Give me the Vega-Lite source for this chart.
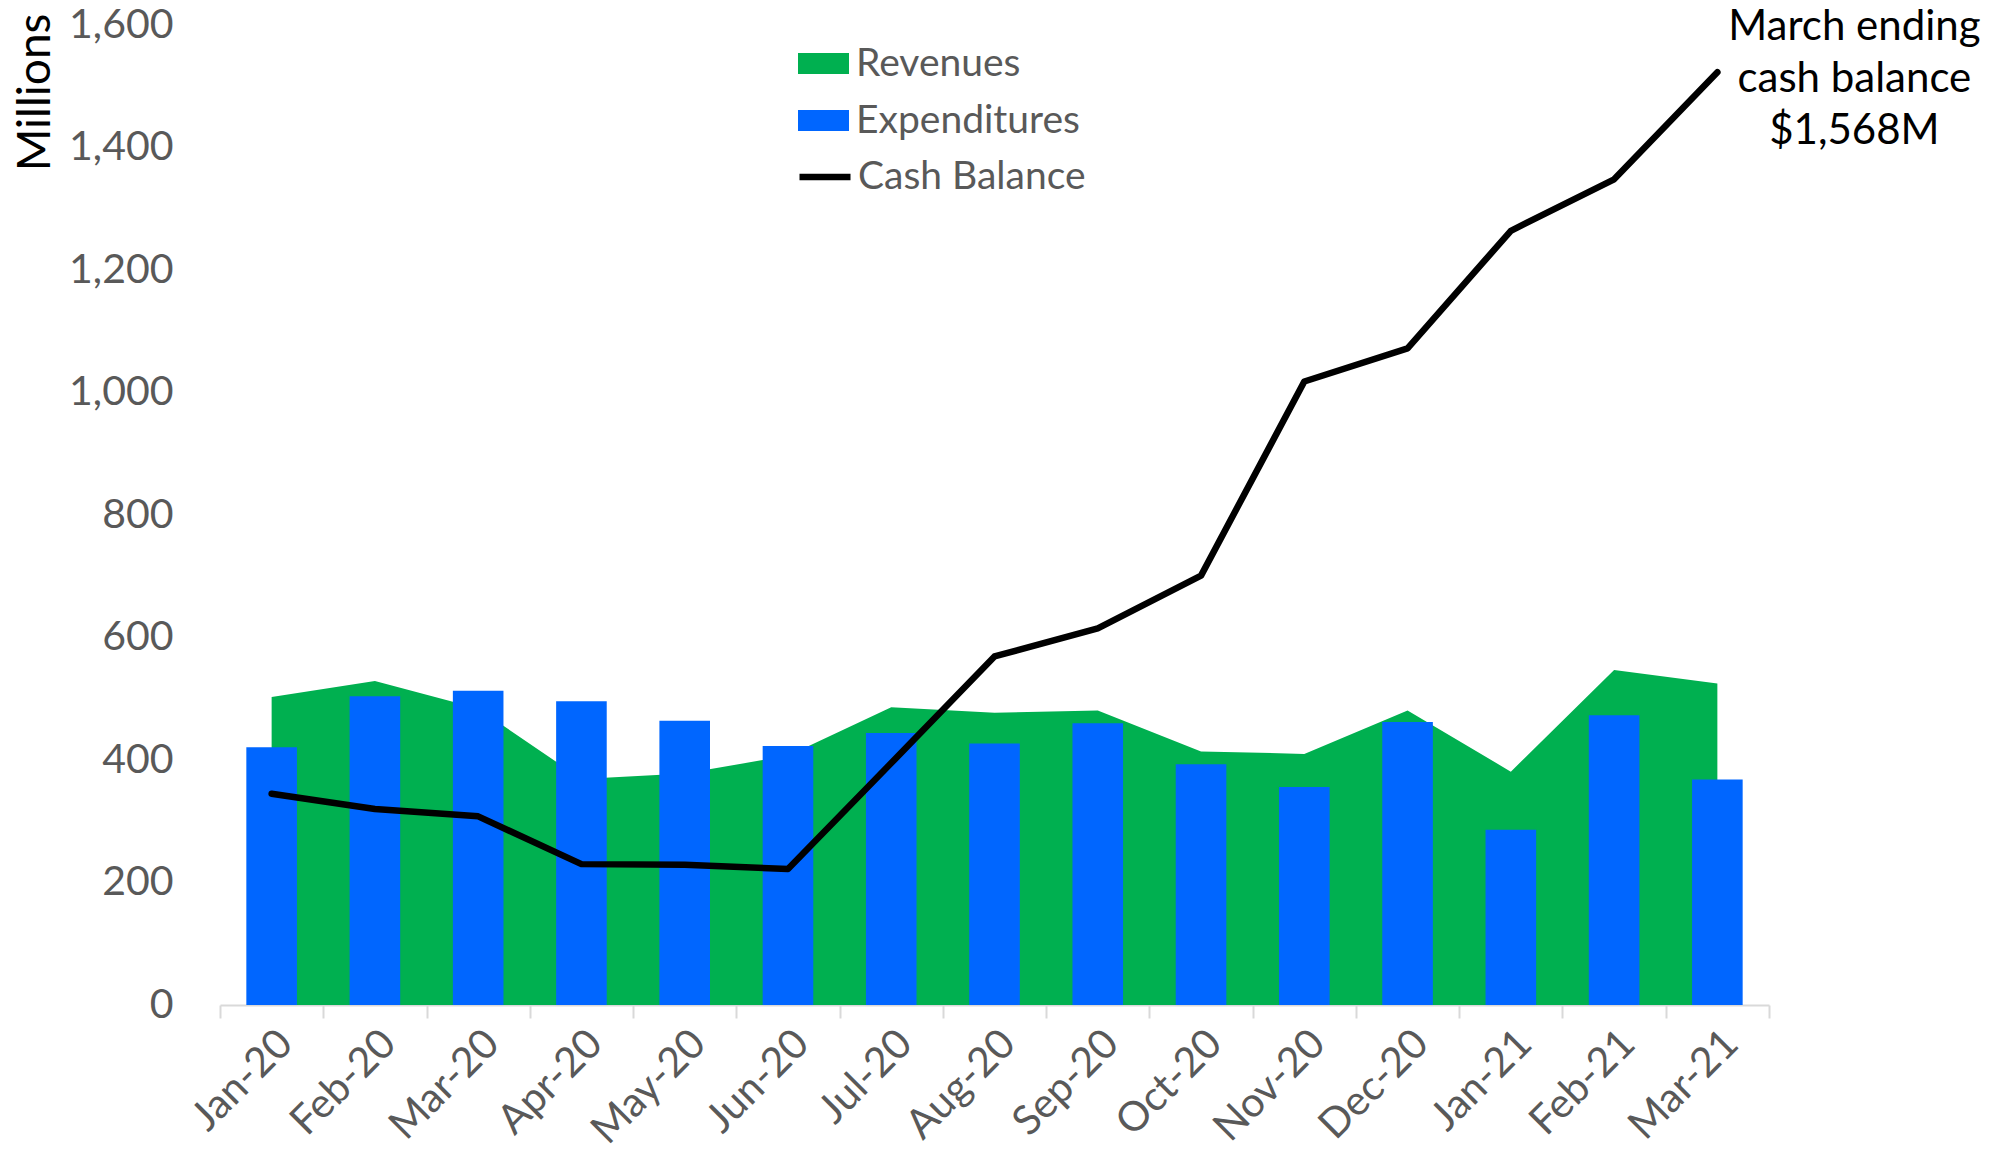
{
  "$schema": "https://vega.github.io/schema/vega-lite/v6.json",
  "width": 1549,
  "height": 980,
  "autosize": {"type": "none"},
  "padding": {"left": 220, "top": 25, "right": 236, "bottom": 150},
  "background": "white",
  "config": {"view": {"stroke": null}, "font": "Lato"},
  "data": {"values": [
    {"month": "Jan-20", "revenues": 503, "expenditures": 421, "cash": 345},
    {"month": "Feb-20", "revenues": 529, "expenditures": 504, "cash": 320},
    {"month": "Mar-20", "revenues": 484, "expenditures": 513, "cash": 308},
    {"month": "Apr-20", "revenues": 369, "expenditures": 496, "cash": 230},
    {"month": "May-20", "revenues": 378, "expenditures": 464, "cash": 229},
    {"month": "Jun-20", "revenues": 407, "expenditures": 423, "cash": 222},
    {"month": "Jul-20", "revenues": 486, "expenditures": 444, "cash": 395},
    {"month": "Aug-20", "revenues": 477, "expenditures": 427, "cash": 569},
    {"month": "Sep-20", "revenues": 481, "expenditures": 460, "cash": 615},
    {"month": "Oct-20", "revenues": 414, "expenditures": 393, "cash": 701},
    {"month": "Nov-20", "revenues": 410, "expenditures": 356, "cash": 1018},
    {"month": "Dec-20", "revenues": 481, "expenditures": 462, "cash": 1072},
    {"month": "Jan-21", "revenues": 381, "expenditures": 286, "cash": 1264},
    {"month": "Feb-21", "revenues": 547, "expenditures": 473, "cash": 1348},
    {"month": "Mar-21", "revenues": 525, "expenditures": 368, "cash": 1523}
  ]},
  "encoding": {
    "x": {
      "field": "month", "type": "nominal", "sort": null,
      "scale": {"paddingInner": 0, "paddingOuter": 0},
      "axis": {
        "title": null,
        "tickBand": "extent",
        "domainColor": "#D9D9D9", "domainWidth": 2,
        "tickColor": "#D9D9D9", "tickWidth": 2, "tickSize": 13,
        "labelAngle": -45, "labelFont": "Lato", "labelFontSize": 41,
        "labelColor": "#595959", "labelPadding": 5
      }
    }
  },
  "layer": [
    {
      "mark": {"type": "area", "opacity": 1},
      "encoding": {
        "y": {
          "field": "revenues", "type": "quantitative",
          "scale": {"domain": [0, 1600], "nice": false},
          "axis": {
            "title": "Millions", "titleFont": "Lato", "titleFontSize": 46,
            "titleFontWeight": "normal", "titleColor": "black",
            "titleAngle": -90, "titleAlign": "right", "titleBaseline": "middle",
            "titleX": -185, "titleY": -12,
            "values": [0, 200, 400, 600, 800, 1000, 1200, 1400, 1600],
            "format": ",d", "grid": false, "domain": false, "ticks": false,
            "labelFont": "Lato", "labelFontSize": 41, "labelColor": "#595959",
            "labelPadding": 47
          }
        },
        "fill": {
          "datum": "Revenues",
          "scale": {"domain": ["Revenues", "Expenditures"], "range": ["#00B050", "#0066FF"]},
          "legend": {
            "title": null, "orient": "none", "legendX": 578, "legendY": 13,
            "direction": "vertical", "padding": 0,
            "symbolType": "M-1,-0.41H1V0.41H-1Z", "symbolSize": 2601,
            "symbolStrokeWidth": 0,
            "labelFont": "Lato", "labelFontSize": 39, "labelColor": "#595959",
            "labelOffset": 7, "rowPadding": 11, "labelLimit": 500
          }
        }
      }
    },
    {
      "mark": {"type": "bar", "width": {"band": 0.49}},
      "encoding": {
        "y": {"field": "expenditures", "type": "quantitative"},
        "fill": {"datum": "Expenditures"}
      }
    },
    {
      "mark": {"type": "line", "strokeWidth": 6.5, "strokeJoin": "round", "strokeCap": "round"},
      "encoding": {
        "y": {"field": "cash", "type": "quantitative"},
        "stroke": {
          "datum": "Cash Balance",
          "scale": {"domain": ["Cash Balance"], "range": ["black"]},
          "legend": {
            "title": null, "orient": "none", "legendX": 576, "legendY": 123,
            "direction": "vertical", "padding": 0,
            "symbolType": "stroke", "symbolSize": 2601, "symbolStrokeWidth": 6.5,
            "labelFont": "Lato", "labelFontSize": 39, "labelColor": "#595959",
            "labelOffset": 4, "labelLimit": 500
          }
        }
      }
    },
    {
      "data": {"values": [
        {"month": "Mar-21", "value": 1600, "label": ["March ending", "cash balance", "$1,568M"]}
      ]},
      "mark": {"type": "text", "align": "center", "baseline": "alphabetic",
               "dx": 137, "dy": 15, "lineHeight": 52, "font": "Lato",
               "fontSize": 42, "color": "black"},
      "encoding": {
        "y": {"field": "value", "type": "quantitative"},
        "text": {"field": "label"}
      }
    }
  ]
}
